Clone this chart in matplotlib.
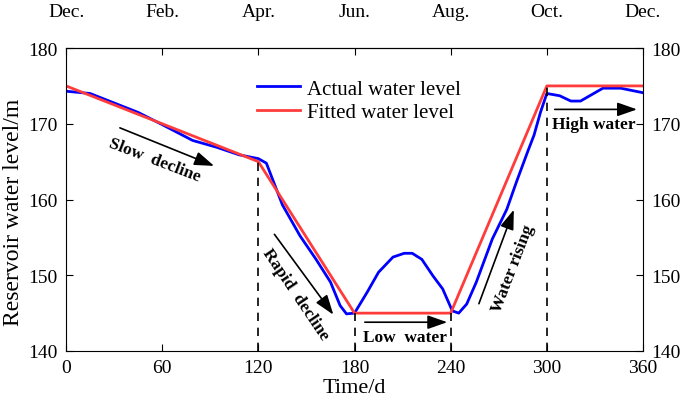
import matplotlib.pyplot as plt

plt.rcParams['font.family'] = ['Liberation Serif', 'DejaVu Serif']

# days and levels
actual_days = [0, 15, 27, 45, 59, 79, 94, 108, 120, 125, 135, 146, 156, 165, 171, 175, 180,
               188, 195, 204, 211, 216, 222, 229, 235, 241, 245, 250, 256, 266, 275, 281,
               288, 292, 296, 300, 308, 315, 321, 335, 346, 360]
actual_level = [174.3, 174.0, 173.0, 171.5, 170.0, 167.8, 166.9, 165.9, 165.4, 164.8, 159.3,
                155.2, 152.1, 149.1, 146.0, 144.9, 145.0, 147.8, 150.4, 152.4, 152.9, 152.9,
                152.1, 149.9, 148.2, 145.3, 145.0, 146.2, 149.1, 154.8, 158.7, 162.3, 166.3,
                168.5, 171.5, 174.0, 173.7, 173.0, 173.0, 174.7, 174.7, 174.1]

fit_days = [0, 120, 180, 240, 300, 360]
fit_level = [175, 165, 145, 145, 175, 175]

day_ticks = [0, 60, 120, 180, 240, 300, 360]
month_labels = ['Dec.', 'Feb.', 'Apr.', 'Jun.', 'Aug.', 'Oct.', 'Dec.']
level_ticks = [140, 150, 160, 170, 180]

# phase boundaries: (day, top of dashed line)
boundaries = [(120, 165), (180, 145), (240, 145), (300, 175)]

fig = plt.figure(figsize=(6.85, 4.02), dpi=100)
ax = fig.add_axes([0.0964, 0.1244, 0.8423, 0.7536])

ax.plot(actual_days, actual_level, color='#0000ff', lw=2, label='Actual water level')
ax.plot(fit_days, fit_level, color='#ff3b3b', lw=2, label='Fitted water level')

for d, top in boundaries:
    ax.plot([d, d], [140, top], color='black', lw=1.2, ls=(0, (5, 4)))

ax.set_xlim(0, 360)
ax.set_ylim(140, 180)
ax.set_xticks(day_ticks)
ax.set_yticks(level_ticks)
ax.tick_params(direction='in', labelsize=14, length=5, top=True, right=True,
               labelright=True, pad=6)
ax.set_xlabel('Time/d', fontsize=16, labelpad=1)
ax.set_ylabel('Reservoir water level/m', fontsize=17)
ax.yaxis.set_label_coords(-0.072, 0.46)

top = ax.secondary_xaxis('top')
top.set_xticks(day_ticks)
top.set_xticklabels(month_labels)
top.tick_params(direction='in', length=0, labelsize=14, pad=20)

ax.legend(loc='upper left', bbox_to_anchor=(0.316, 0.925), frameon=False, fontsize=15,
          handlelength=2.1, handletextpad=0.3, labelspacing=0.2, borderaxespad=0)

arrow = dict(arrowstyle='-|>,head_length=1.2,head_width=0.42', color='black', lw=1.2)
bold = dict(fontsize=12.5, fontweight='bold', ha='center', va='center')

ax.annotate('', xy=(94, 164.3), xytext=(32, 169.6), arrowprops=arrow)
ax.text(55.5, 165.3, 'Slow  decline', rotation=-21, **bold)

ax.annotate('', xy=(167.8, 144.5), xytext=(129, 155.7), arrowprops=arrow)
ax.text(143, 147.5, 'Rapid  decline', rotation=-56, **bold)

ax.annotate('', xy=(239.6, 143.8), xytext=(184.7, 143.8), arrowprops=arrow)
ax.text(211.5, 141.9, 'Low  water', **bold)

ax.annotate('', xy=(280, 159.0), xytext=(257, 145.9), arrowprops=arrow)
ax.text(279, 151.0, 'Water rising', rotation=69, **bold)

ax.annotate('', xy=(358, 171.9), xytext=(303.2, 171.9), arrowprops=arrow)
ax.text(329, 170.0, 'High water', **bold)

fig.savefig('out.png', dpi=100)
